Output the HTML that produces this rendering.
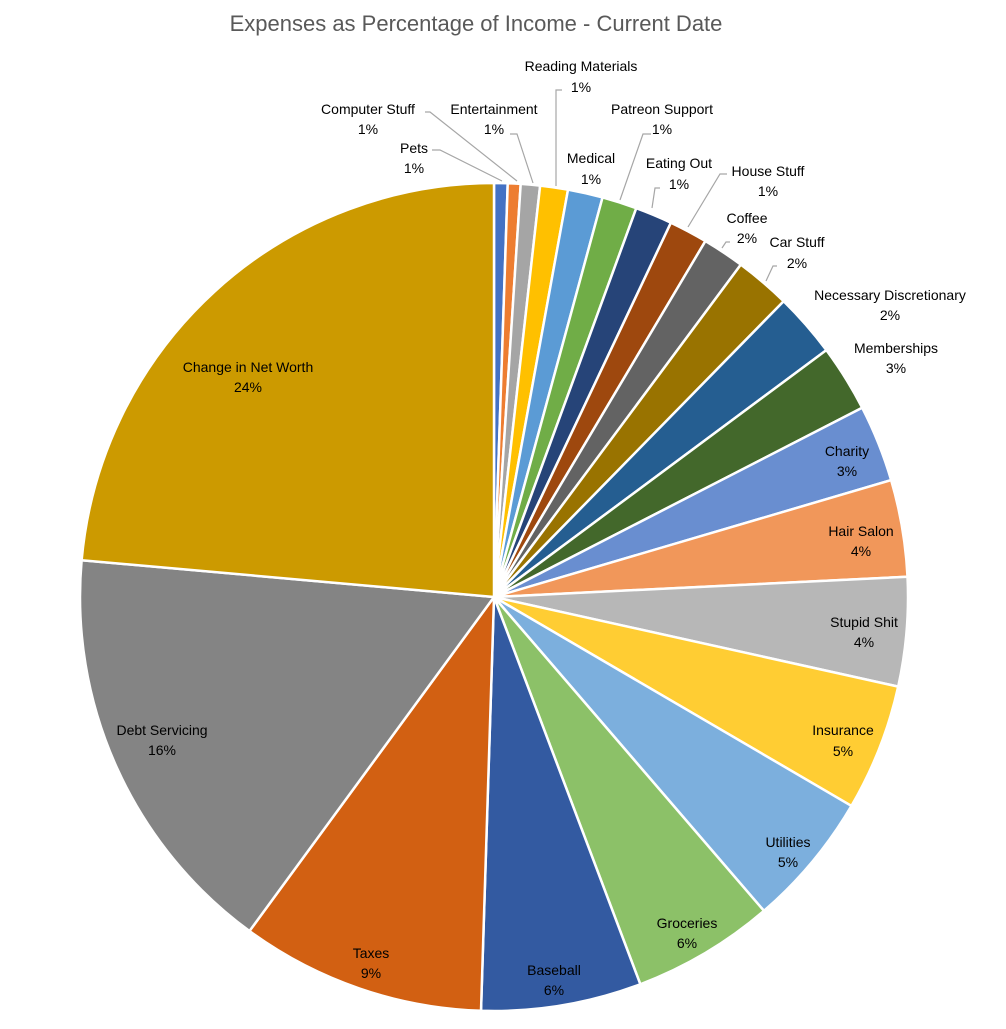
<!DOCTYPE html>
<html><head><meta charset="utf-8"><style>
html,body{margin:0;padding:0;background:#fff;}
svg text{font-family:"Liberation Sans",Arial,sans-serif;}
</style></head><body>
<svg width="1006" height="1024" viewBox="0 0 1006 1024" xmlns="http://www.w3.org/2000/svg">
<rect width="1006" height="1024" fill="#fff"/>
<text x="476" y="31" font-size="22" fill="#595959" text-anchor="middle">Expenses as Percentage of Income - Current Date</text>
<g stroke="#fff" stroke-width="2.5" stroke-linejoin="round">
<path fill="#4472C4" d="M494,597L494,183A414,414 0 0 1 507.73,183.23Z"/>
<path fill="#ED7D31" d="M494,597L507.73,183.23A414,414 0 0 1 520.72,183.86Z"/>
<path fill="#A5A5A5" d="M494,597L520.72,183.86A414,414 0 0 1 540.15,185.58Z"/>
<path fill="#FFC000" d="M494,597L540.15,185.58A414,414 0 0 1 568.02,189.67Z"/>
<path fill="#5B9BD5" d="M494,597L568.02,189.67A414,414 0 0 1 602.55,197.48Z"/>
<path fill="#70AD47" d="M494,597L602.55,197.48A414,414 0 0 1 636.28,208.22Z"/>
<path fill="#264478" d="M494,597L636.28,208.22A414,414 0 0 1 670.93,222.71Z"/>
<path fill="#9E480E" d="M494,597L670.93,222.71A414,414 0 0 1 705.40,241.05Z"/>
<path fill="#636363" d="M494,597L705.40,241.05A414,414 0 0 1 740.83,264.63Z"/>
<path fill="#997300" d="M494,597L740.83,264.63A414,414 0 0 1 783.66,301.21Z"/>
<path fill="#255E91" d="M494,597L783.66,301.21A414,414 0 0 1 826.37,350.16Z"/>
<path fill="#43682B" d="M494,597L826.37,350.16A414,414 0 0 1 862.22,407.76Z"/>
<path fill="#698ED0" d="M494,597L862.22,407.76A414,414 0 0 1 891.15,480.11Z"/>
<path fill="#F1975A" d="M494,597L891.15,480.11A414,414 0 0 1 907.51,576.78Z"/>
<path fill="#B7B7B7" d="M494,597L907.51,576.78A414,414 0 0 1 898.19,686.61Z"/>
<path fill="#FFCD33" d="M494,597L898.19,686.61A414,414 0 0 1 851.45,805.92Z"/>
<path fill="#7CAFDD" d="M494,597L851.45,805.92A414,414 0 0 1 763.97,910.87Z"/>
<path fill="#8CC168" d="M494,597L763.97,910.87A414,414 0 0 1 640.34,984.27Z"/>
<path fill="#335AA1" d="M494,597L640.34,984.27A414,414 0 0 1 481.00,1010.80Z"/>
<path fill="#D26012" d="M494,597L481.00,1010.80A414,414 0 0 1 249.45,931.06Z"/>
<path fill="#848484" d="M494,597L249.45,931.06A414,414 0 0 1 81.64,560.20Z"/>
<path fill="#CC9A00" d="M494,597L81.64,560.20A414,414 0 0 1 494,183Z"/>
</g>
<g stroke="#A6A6A6" stroke-width="1.2" fill="none">
<polyline points="432,150 440,150 502,181"/>
<polyline points="425,112 430,112 517,181"/>
<polyline points="510,134 517,134 533,183"/>
<polyline points="562,90 556,90 556,186"/>
<polyline points="651,134 643,134 620,200"/>
<polyline points="660,188 655,188 652,208"/>
<polyline points="727,174 720,174 688,227"/>
<polyline points="730,242 726,242 722,248"/>
<polyline points="777,266 773,266 766,281"/>
</g>
<g font-size="14" fill="#000" text-anchor="middle">
<text x="414" y="153">Pets</text><text x="414" y="173">1%</text>
<text x="368" y="114">Computer Stuff</text><text x="368" y="134">1%</text>
<text x="494" y="114">Entertainment</text><text x="494" y="134">1%</text>
<text x="581" y="71">Reading Materials</text><text x="581" y="92">1%</text>
<text x="662" y="114">Patreon Support</text><text x="662" y="134">1%</text>
<text x="591" y="163">Medical</text><text x="591" y="184">1%</text>
<text x="679" y="168">Eating Out</text><text x="679" y="189">1%</text>
<text x="768" y="176">House Stuff</text><text x="768" y="196">1%</text>
<text x="747" y="223">Coffee</text><text x="747" y="243">2%</text>
<text x="797" y="247">Car Stuff</text><text x="797" y="268">2%</text>
<text x="890" y="300">Necessary Discretionary</text><text x="890" y="320">2%</text>
<text x="896" y="353">Memberships</text><text x="896" y="373">3%</text>
<text x="847" y="456">Charity</text><text x="847" y="476">3%</text>
<text x="861" y="536">Hair Salon</text><text x="861" y="556">4%</text>
<text x="864" y="627">Stupid Shit</text><text x="864" y="647">4%</text>
<text x="843" y="735">Insurance</text><text x="843" y="756">5%</text>
<text x="788" y="847">Utilities</text><text x="788" y="867">5%</text>
<text x="687" y="928">Groceries</text><text x="687" y="948">6%</text>
<text x="554" y="975">Baseball</text><text x="554" y="995">6%</text>
<text x="371" y="958">Taxes</text><text x="371" y="978">9%</text>
<text x="162" y="735">Debt Servicing</text><text x="162" y="755">16%</text>
<text x="248" y="372">Change in Net Worth</text><text x="248" y="392">24%</text>
</g>
</svg>
</body></html>
